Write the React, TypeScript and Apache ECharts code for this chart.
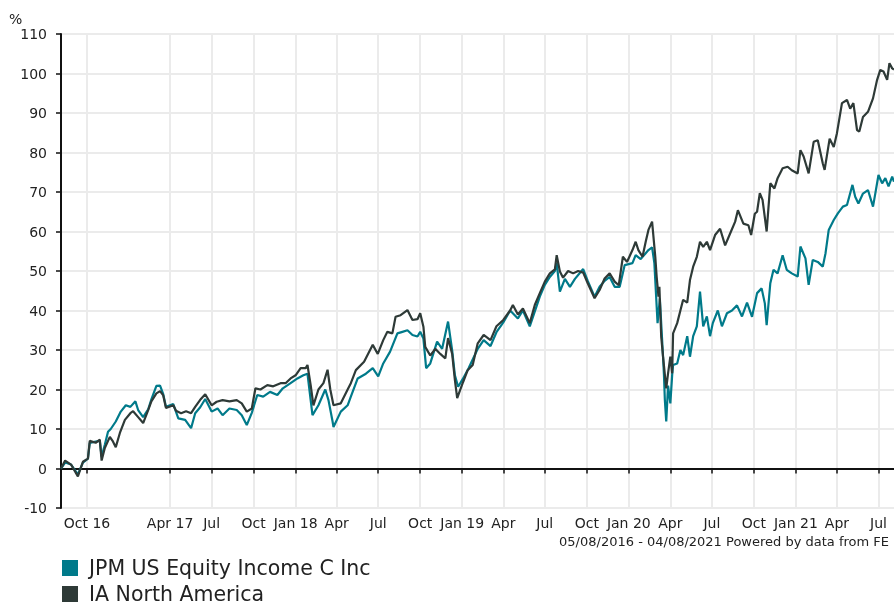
import React, { useEffect, useRef } from "react";
import * as echarts from "echarts";

const START_DATE = "2016-08-05";
const END_DATE = "2021-08-04";
const DATE_RANGE_TEXT = "05/08/2016 - 04/08/2021 Powered by data from FE";

const tickDates = [
  "2016-10-01", "2017-04-01", "2017-07-01", "2017-10-01", "2018-01-01", "2018-04-01",
  "2018-07-01", "2018-10-01", "2019-01-01", "2019-04-01", "2019-07-01", "2019-10-01",
  "2020-01-01", "2020-04-01", "2020-07-01", "2020-10-01", "2021-01-01", "2021-04-01", "2021-07-01",
];
const tickLabels = [
  "Oct 16", "Apr 17", "Jul", "Oct", "Jan 18", "Apr", "Jul", "Oct", "Jan 19", "Apr",
  "Jul", "Oct", "Jan 20", "Apr", "Jul", "Oct", "Jan 21", "Apr", "Jul",
];

const seriesNames = ["JPM US Equity Income C Inc", "IA North America"];
const seriesColors = ["#007a8a", "#2e3a37"];

const jpmPoints: [string, number][] = [
  ["2016-08-05", 0], ["2016-08-14", 1.5], ["2016-08-27", 1], ["2016-09-11", -1.5], ["2016-09-22", 1.5],
  ["2016-10-03", 2.5], ["2016-10-07", 6.5], ["2016-10-20", 6.8], ["2016-10-29", 7], ["2016-11-02", 3],
  ["2016-11-09", 6], ["2016-11-16", 9.3], ["2016-11-22", 10], ["2016-12-03", 11.9], ["2016-12-14", 14.4],
  ["2016-12-25", 16], ["2017-01-04", 15.6], ["2017-01-15", 17], ["2017-01-21", 14.8], ["2017-02-01", 13],
  ["2017-02-12", 15], ["2017-02-19", 17.5], ["2017-03-02", 20.9], ["2017-03-10", 21], ["2017-03-17", 18.8],
  ["2017-03-23", 15.6], ["2017-04-08", 16.3], ["2017-04-19", 12.7], ["2017-05-04", 12.3], ["2017-05-17", 10.2],
  ["2017-05-26", 14], ["2017-06-06", 15.5], ["2017-06-17", 17.6], ["2017-07-01", 14.4], ["2017-07-14", 15.2],
  ["2017-07-25", 13.5], ["2017-08-09", 15.2], ["2017-08-25", 14.8], ["2017-09-05", 13.5], ["2017-09-16", 11],
  ["2017-09-27", 14.1], ["2017-10-09", 18.6], ["2017-10-22", 18.2], ["2017-11-06", 19.4], ["2017-11-22", 18.6],
  ["2017-12-04", 20.3], ["2017-12-21", 21.6], ["2018-01-05", 22.8], ["2018-01-18", 23.6], ["2018-01-27", 24],
  ["2018-02-03", 17.3], ["2018-02-07", 13.5], ["2018-02-20", 16], ["2018-03-07", 20], ["2018-03-14", 17.3],
  ["2018-03-23", 11.9], ["2018-03-25", 10.5], ["2018-04-10", 14.4], ["2018-04-25", 16], ["2018-05-02", 18.2],
  ["2018-05-17", 22.8], ["2018-06-04", 24], ["2018-06-19", 25.4], ["2018-07-01", 23.3], ["2018-07-12", 26.6],
  ["2018-07-27", 29.6], ["2018-08-12", 34.2], ["2018-08-23", 34.6], ["2018-09-03", 35], ["2018-09-14", 33.8],
  ["2018-09-25", 33.4], ["2018-10-01", 34.6], ["2018-10-08", 32.9], ["2018-10-14", 25.4], ["2018-10-23", 26.6],
  ["2018-11-07", 32.1], ["2018-11-18", 30.3], ["2018-12-01", 37.2], ["2018-12-10", 29.9], ["2018-12-16", 23.6],
  ["2018-12-23", 20.7], ["2019-01-03", 22.8], ["2019-01-15", 25.4], ["2019-02-04", 30.3], ["2019-02-17", 32.5],
  ["2019-03-04", 31], ["2019-03-17", 34.5], ["2019-04-01", 37], ["2019-04-16", 40], ["2019-05-03", 38],
  ["2019-05-14", 40], ["2019-05-29", 36], ["2019-06-20", 43.5], ["2019-07-01", 46.5], ["2019-07-12", 48.5],
  ["2019-07-23", 50], ["2019-07-27", 52], ["2019-08-03", 44.8], ["2019-08-14", 48], ["2019-08-25", 46],
  ["2019-09-05", 48], ["2019-09-23", 50.5], ["2019-10-03", 47.5], ["2019-10-18", 43.5], ["2019-10-29", 46],
  ["2019-11-09", 47.5], ["2019-11-20", 48.5], ["2019-12-01", 46], ["2019-12-12", 46], ["2019-12-23", 51.5],
  ["2020-01-09", 52], ["2020-01-16", 54], ["2020-01-27", 53], ["2020-02-07", 54.5], ["2020-02-13", 55.3],
  ["2020-02-21", 56], ["2020-02-26", 52], ["2020-03-04", 36.8], ["2020-03-09", 43], ["2020-03-16", 28.3],
  ["2020-03-18", 23.7], ["2020-03-20", 17.3], ["2020-03-23", 11.9], ["2020-03-27", 21], ["2020-04-01", 16.5],
  ["2020-04-05", 23.7], ["2020-04-07", 26.2], ["2020-04-16", 26.6], ["2020-04-23", 30], ["2020-04-29", 28.7],
  ["2020-05-08", 33.5], ["2020-05-14", 28.3], ["2020-05-21", 33.5], ["2020-05-29", 36], ["2020-06-05", 44.8],
  ["2020-06-12", 36], ["2020-06-20", 38.5], ["2020-06-27", 33.5], ["2020-07-03", 36.8], ["2020-07-14", 40],
  ["2020-07-23", 36], ["2020-08-03", 39.3], ["2020-08-14", 40], ["2020-08-25", 41.3], ["2020-09-05", 38.5],
  ["2020-09-16", 42], ["2020-09-27", 38.4], ["2020-10-08", 44.4], ["2020-10-18", 45.6], ["2020-10-25", 41.8],
  ["2020-10-29", 36.3], ["2020-11-06", 46.9], ["2020-11-13", 50.3], ["2020-11-22", 49.4], ["2020-12-03", 54],
  ["2020-12-12", 50.3], ["2020-12-23", 49.4], ["2021-01-05", 48.6], ["2021-01-11", 56.2], ["2021-01-22", 53.2],
  ["2021-01-29", 46.5], ["2021-02-07", 52.8], ["2021-02-18", 52.3], ["2021-03-01", 51.1], ["2021-03-07", 54.5],
  ["2021-03-14", 60.4], ["2021-03-25", 62.9], ["2021-04-03", 64.6], ["2021-04-14", 66.3], ["2021-04-23", 66.7],
  ["2021-05-05", 71.8], ["2021-05-11", 68.8], ["2021-05-18", 67.1], ["2021-05-28", 69.6], ["2021-06-08", 70.5],
  ["2021-06-19", 66.3], ["2021-06-24", 69.6], ["2021-07-01", 74.3], ["2021-07-09", 72.2], ["2021-07-16", 73.5],
  ["2021-07-23", 71.4], ["2021-07-31", 73.9], ["2021-08-04", 72.6],
];

const iaPoints: [string, number][] = [
  ["2016-08-05", 0], ["2016-08-14", 2], ["2016-08-27", 1], ["2016-09-11", -2], ["2016-09-22", 1.7],
  ["2016-10-03", 2.5], ["2016-10-07", 7], ["2016-10-20", 6.5], ["2016-10-29", 7.3], ["2016-11-02", 2],
  ["2016-11-09", 5.2], ["2016-11-20", 8], ["2016-11-26", 7], ["2016-12-03", 5.4], ["2016-12-12", 9],
  ["2016-12-23", 12.3], ["2017-01-04", 14], ["2017-01-10", 14.5], ["2017-01-21", 13], ["2017-02-01", 11.5],
  ["2017-02-12", 14.8], ["2017-02-19", 17], ["2017-03-02", 19], ["2017-03-10", 19.6], ["2017-03-17", 18.5],
  ["2017-03-23", 15.3], ["2017-04-08", 16], ["2017-04-14", 14.6], ["2017-04-25", 14], ["2017-05-06", 14.5],
  ["2017-05-17", 14], ["2017-05-26", 15.6], ["2017-06-06", 17.4], ["2017-06-17", 18.8], ["2017-07-01", 16],
  ["2017-07-12", 16.9], ["2017-07-25", 17.3], ["2017-08-09", 17], ["2017-08-25", 17.3], ["2017-09-05", 16.5],
  ["2017-09-16", 14.4], ["2017-09-27", 15.2], ["2017-10-05", 20.3], ["2017-10-16", 20], ["2017-10-31", 21.1],
  ["2017-11-13", 20.8], ["2017-11-29", 21.6], ["2017-12-10", 21.6], ["2017-12-21", 22.8], ["2018-01-01", 23.6],
  ["2018-01-12", 25.4], ["2018-01-23", 25.4], ["2018-01-27", 26.2], ["2018-02-03", 21.1], ["2018-02-09", 16],
  ["2018-02-20", 20], ["2018-03-03", 21.6], ["2018-03-12", 25], ["2018-03-18", 20], ["2018-03-25", 16],
  ["2018-04-10", 16.5], ["2018-04-25", 20], ["2018-05-02", 21.6], ["2018-05-13", 24.9], ["2018-05-31", 27],
  ["2018-06-19", 31.3], ["2018-06-30", 29], ["2018-07-12", 32.5], ["2018-07-21", 34.6], ["2018-08-01", 34.2],
  ["2018-08-08", 38.4], ["2018-08-19", 38.8], ["2018-09-03", 40.1], ["2018-09-14", 37.6], ["2018-09-25", 37.8],
  ["2018-10-01", 39.3], ["2018-10-08", 35.9], ["2018-10-12", 30.8], ["2018-10-23", 28.6], ["2018-11-03", 30.3],
  ["2018-11-14", 29], ["2018-11-25", 27.9], ["2018-12-01", 33], ["2018-12-10", 29], ["2018-12-16", 22.4],
  ["2018-12-21", 17.8], ["2019-01-03", 21.9], ["2019-01-13", 24.9], ["2019-01-24", 26.2], ["2019-02-04", 31.7],
  ["2019-02-17", 33.8], ["2019-03-04", 32.5], ["2019-03-17", 36], ["2019-04-01", 37.6], ["2019-04-16", 40],
  ["2019-04-22", 41.4], ["2019-05-03", 39], ["2019-05-14", 40.5], ["2019-05-29", 36.8], ["2019-06-09", 41.4],
  ["2019-06-20", 44.4], ["2019-07-01", 47.3], ["2019-07-12", 49.4], ["2019-07-23", 50.4], ["2019-07-27", 54],
  ["2019-08-03", 49.9], ["2019-08-10", 48.3], ["2019-08-21", 50], ["2019-09-01", 49.4], ["2019-09-12", 50],
  ["2019-09-23", 49.6], ["2019-10-03", 46.9], ["2019-10-18", 43.1], ["2019-10-29", 45.2], ["2019-11-09", 48.1],
  ["2019-11-20", 49.4], ["2019-12-01", 47.3], ["2019-12-10", 46.4], ["2019-12-19", 53.6], ["2019-12-28", 52.3],
  ["2020-01-09", 55.3], ["2020-01-16", 57.4], ["2020-01-22", 55.3], ["2020-01-31", 53.6], ["2020-02-07", 57.4],
  ["2020-02-13", 60.4], ["2020-02-21", 62.5], ["2020-02-28", 53.6], ["2020-03-02", 48.6], ["2020-03-06", 43.5],
  ["2020-03-08", 46], ["2020-03-12", 33.4], ["2020-03-16", 28.3], ["2020-03-23", 20.3], ["2020-03-27", 24.1],
  ["2020-04-01", 28.3], ["2020-04-05", 24.1], ["2020-04-07", 34.2], ["2020-04-16", 36.8], ["2020-04-23", 40],
  ["2020-04-29", 42.7], ["2020-05-08", 42], ["2020-05-14", 47.7], ["2020-05-21", 51.1], ["2020-05-29", 53.6],
  ["2020-06-05", 57.4], ["2020-06-12", 56.1], ["2020-06-20", 57.4], ["2020-06-27", 55.3], ["2020-07-08", 59.1],
  ["2020-07-19", 60.7], ["2020-07-30", 56.5], ["2020-08-10", 59.5], ["2020-08-21", 62.5], ["2020-08-27", 65.4],
  ["2020-09-08", 62], ["2020-09-19", 61.6], ["2020-09-25", 59.1], ["2020-10-03", 64.5], ["2020-10-08", 65],
  ["2020-10-14", 69.7], ["2020-10-20", 68], ["2020-10-29", 60], ["2020-11-06", 72.2], ["2020-11-15", 70.9],
  ["2020-11-22", 73.5], ["2020-12-03", 76], ["2020-12-14", 76.4], ["2020-12-23", 75.5], ["2021-01-05", 74.7],
  ["2021-01-11", 80.6], ["2021-01-18", 79], ["2021-01-29", 74.7], ["2021-02-09", 82.7], ["2021-02-18", 83.1],
  ["2021-03-01", 77.2], ["2021-03-05", 75.6], ["2021-03-16", 83.5], ["2021-03-25", 81.4], ["2021-04-01", 84.9],
  ["2021-04-12", 92.5], ["2021-04-23", 93.3], ["2021-04-30", 91.1], ["2021-05-07", 92.5], ["2021-05-15", 85.7],
  ["2021-05-20", 85.3], ["2021-05-28", 89], ["2021-06-08", 90.3], ["2021-06-19", 93.7], ["2021-06-28", 98.4],
  ["2021-07-05", 100.9], ["2021-07-12", 100.5], ["2021-07-20", 98.4], ["2021-07-25", 102.6], ["2021-07-31", 101.3],
  ["2021-08-04", 101],
];

const FONT = "DejaVu Sans, Verdana, sans-serif";
const ts = (d: string) => Date.parse(d + "T00:00:00Z");

export default function App() {
  const ref = useRef<HTMLDivElement>(null);
  useEffect(() => {
    if (!ref.current) return;
    const chart = echarts.init(ref.current, null, { renderer: "svg" });
    const tickTs = tickDates.map(ts);
    const toData = (pts: [string, number][]) => pts.map(([d, v]) => [ts(d), v]);
    const legendItems: any[] = [];
    seriesNames.forEach((name, i) => {
      const cy = 568 + i * 26;
      legendItems.push({
        type: "rect",
        shape: { x: 62, y: cy - 8, width: 16, height: 16 },
        style: { fill: seriesColors[i] },
      });
      legendItems.push({
        type: "text",
        x: 89,
        y: cy,
        style: {
          text: name,
          fontFamily: FONT,
          fontSize: 20.5,
          fill: "#222",
          verticalAlign: "middle",
          align: "left",
        },
      });
    });
    chart.setOption({
      animation: false,
      grid: { left: 61, right: 0, top: 34, bottom: 98, containLabel: false },
      xAxis: {
        type: "value",
        min: ts(START_DATE),
        max: ts(END_DATE),
        axisLine: { show: true, lineStyle: { color: "#111", width: 2 } },
        axisTick: { show: true, length: 5, lineStyle: { color: "#111", width: 1.5 }, customValues: tickTs },
        axisLabel: {
          customValues: tickTs,
          margin: 8,
          fontFamily: FONT,
          fontSize: 14,
          color: "#222",
          formatter: (v: number) => {
            let best = 0;
            tickTs.forEach((t, i) => { if (Math.abs(t - v) < Math.abs(tickTs[best] - v)) best = i; });
            return tickLabels[best];
          },
        },
        splitLine: { show: true, lineStyle: { color: "#ebebeb", width: 2 } },
      },
      yAxis: {
        type: "value",
        min: -10,
        max: 110,
        interval: 10,
        axisLine: { show: true, lineStyle: { color: "#111", width: 2 } },
        axisTick: { show: true, length: 5, lineStyle: { color: "#111", width: 1.5 } },
        axisLabel: { margin: 14, fontFamily: FONT, fontSize: 14, color: "#222" },
        splitLine: { show: true, lineStyle: { color: "#ebebeb", width: 2 } },
      },
      graphic: [
        { type: "text", x: 9, y: 12, style: { text: "%", fontFamily: FONT, fontSize: 14, fill: "#222" } },
        {
          type: "text",
          x: 889,
          y: 541,
          style: {
            text: DATE_RANGE_TEXT,
            fontFamily: FONT,
            fontSize: 13,
            fill: "#222",
            align: "right",
            verticalAlign: "middle",
          },
        },
        ...legendItems,
      ],
      series: [
        {
          name: seriesNames[0],
          type: "line",
          data: toData(jpmPoints),
          showSymbol: false,
          color: seriesColors[0],
          lineStyle: { width: 2.2, color: seriesColors[0] },
        },
        {
          name: seriesNames[1],
          type: "line",
          data: toData(iaPoints),
          showSymbol: false,
          color: seriesColors[1],
          lineStyle: { width: 2.2, color: seriesColors[1] },
        },
      ],
    });
    return () => chart.dispose();
  }, []);
  return <div ref={ref} style={{ position: "fixed", left: 0, top: 0, width: 894, height: 606 }} />;
}
